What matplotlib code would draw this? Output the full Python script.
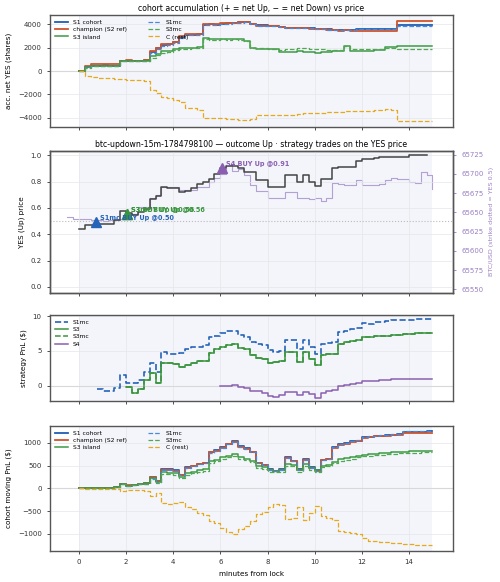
import numpy as np
import matplotlib
matplotlib.use("Agg")
import matplotlib.pyplot as plt

# time grid (minutes from lock)
t = np.arange(0, 15.001, 0.25)
t_btc = np.arange(-0.5, 15.001, 0.25)
nan = np.nan

# --- panel 1: accumulated net YES shares ---
acc_s1 = [0, 320, 420, 460, 480, 470, 450, 850, 880, 860, 880, 900, 1650, 1950, 2250, 2300,
          2450, 2900, 3100, 3100, 3150, 3950, 3980, 3950, 4050, 4080, 4100, 4150, 4200, 4050,
          3900, 3900, 3880, 3850, 3750, 3700, 3700, 3690, 3700, 3650, 3620, 3600, 3560, 3500,
          3480, 3520, 3500, 3580, 3600, 3580, 3600, 3600, 3600, 3620, 3900, 3900, 3890, 3890,
          3890, 3890, 3890]
acc_champ = [0, 420, 560, 600, 600, 580, 560, 880, 900, 880, 890, 920, 1750, 2000, 2300, 2350,
             2500, 2950, 3150, 3150, 3200, 4000, 4000, 3980, 4080, 4100, 4120, 4150, 4180, 4000,
             3880, 3880, 3860, 3830, 3730, 3680, 3680, 3650, 3660, 3620, 3600, 3560, 3520, 3470,
             3450, 3480, 3430, 3420, 3420, 3400, 3450, 3400, 3420, 3450, 4300, 4300, 4300, 4300,
             4300, 4300, 4300]
acc_s3 = [0, 300, 400, 450, 470, 460, 450, 850, 870, 860, 870, 880, 1250, 1450, 1700, 1750,
          1900, 1950, 2000, 2000, 2050, 2800, 2750, 2700, 2750, 2700, 2750, 2700, 2600, 2000,
          1900, 1900, 1880, 1850, 1650, 1660, 1650, 1700, 1650, 1600, 1550, 1600, 1650, 1700,
          1700, 2150, 1750, 1740, 1740, 1740, 1760, 1760, 2030, 2030, 2170, 2170, 2170, 2170,
          2170, 2170, 2170]
acc_s1mc = [0, 300, 400, 450, 470, 450, 430, 820, 860, 840, 860, 880, 1550, 1850, 2150, 2250,
            2400, 2850, 3050, 3050, 3100, 3900, 3950, 3920, 4020, 4060, 4080, 4120, 4180, 4020,
            3880, 3880, 3860, 3830, 3730, 3680, 3680, 3660, 3680, 3640, 3600, 3580, 3540, 3480,
            3470, 3500, 3480, 3560, 3580, 3560, 3580, 3580, 3580, 3600, 3880, 3880, 3880, 3880,
            3880, 3880, 3880]
acc_s3mc = [0, 290, 390, 440, 460, 450, 440, 830, 850, 840, 850, 860, 1150, 1350, 1550, 1650,
            1800, 1850, 1900, 1950, 2000, 2700, 2650, 2650, 2700, 2650, 2700, 2650, 2600, 2000,
            1950, 1950, 1900, 1880, 1800, 1850, 1900, 1940, 1940, 1900, 1850, 1850, 1800, 1800,
            1820, 2100, 1900, 1890, 1890, 1890, 1890, 1890, 1950, 2000, 1900, 1890, 1890, 1890,
            1890, 1890, 1890]
acc_rest = [0, -400, -500, -560, -580, -600, -650, -700, -780, -790, -800, -830, -1650, -1900,
            -2200, -2300, -2500, -2650, -3200, -3200, -3300, -4000, -4000, -4050, -4050, -4100,
            -4100, -4150, -4150, -4100, -3800, -3800, -3780, -3780, -3750, -3740, -3720, -3700,
            -3600, -3580, -3550, -3560, -3530, -3500, -3500, -3450, -3420, -3400, -3400, -3380,
            -3350, -3300, -3250, -3350, -4250, -4250, -4250, -4250, -4260, -4260, -4260]

# --- panel 2: YES price and BTC ---
yes_price = [0.44, 0.47, 0.47, 0.48, 0.48, 0.48, 0.51, 0.58, 0.56, 0.55, 0.57, 0.59, 0.67, 0.69,
             0.76, 0.75, 0.75, 0.72, 0.73, 0.75, 0.78, 0.80, 0.82, 0.86, 0.90, 0.92, 0.92, 0.90,
             0.87, 0.87, 0.81, 0.81, 0.76, 0.76, 0.76, 0.85, 0.85, 0.80, 0.85, 0.80, 0.77, 0.82,
             0.82, 0.90, 0.91, 0.91, 0.91, 0.96, 0.97, 0.97, 0.98, 0.99, 0.99, 0.99, 0.99, 0.99,
             1.00, 1.00, 1.00, 1.00]
btc = [65644, 65641, 65641, 65641, 65640, 65640, 65639, 65640, 65640, 65641, 65648, 65648,
       65657, 65657, 65668, 65672, 65683, 65683, 65683, 65679, 65679, 65679, 65683, 65683,
       65690, 65694, 65700, 65712, 65704, 65706, 65698, 65685, 65678, 65678, 65668, 65668,
       65668, 65676, 65676, 65668, 65668, 65667, 65668, 65665, 65668, 65688, 65687, 65686,
       65686, 65692, 65686, 65686, 65686, 65687, 65692, 65694, 65693, 65693, 65690, 65688,
       65702, 65698, 65680]
strike = 65638
trade_t = [0.71, 2.05, 2.05, 6.08]
trade_px = [0.49, 0.555, 0.555, 0.90]
trade_lbl = ["S1mc BUY Up @0.50", "S3 BUY Up @0.56", "S3mc BUY Up @0.56", "S4 BUY Up @0.91"]
trade_col = ["#2563b8", "#3a953f", "#3a953f", "#8a5fb0"]

# --- panel 3: strategy PnL ($) ---
pnl_s1mc = [nan, nan, nan, -0.5, -0.8, -0.7, -0.3, 1.5, 0.4, 0.4, 0.8, 2.0, 3.2, 2.0, 4.9, 4.6,
            4.5, 4.7, 5.3, 5.5, 5.6, 5.8, 7.0, 7.2, 7.5, 7.9, 7.8, 7.3, 7.0, 6.3, 6.0, 5.8, 5.1,
            4.8, 5.0, 6.5, 6.5, 5.3, 6.5, 5.6, 4.6, 6.0, 6.1, 6.3, 7.7, 7.9, 8.1, 8.3, 9.0, 8.9,
            9.1, 9.1, 9.3, 9.4, 9.4, 9.5, 9.5, 9.6, 9.6, 9.6, 9.6]
pnl_s3 = [nan, nan, nan, nan, nan, nan, nan, nan, -0.2, -1.1, -0.5, 0.8, 1.8, 0.4, 3.3, 3.3,
          3.1, 2.7, 2.9, 3.2, 3.5, 3.6, 4.7, 5.2, 5.5, 5.9, 6.0, 5.4, 5.3, 4.4, 4.0, 3.9, 3.3,
          3.4, 3.5, 4.8, 4.8, 3.4, 4.8, 3.9, 3.0, 4.4, 4.5, 4.6, 6.0, 6.2, 6.4, 6.5, 7.0, 7.0,
          7.1, 7.1, 7.2, 7.3, 7.3, 7.4, 7.4, 7.5, 7.5, 7.5, 7.5]
pnl_s3mc = [nan, nan, nan, nan, nan, nan, nan, nan, -0.2, -1.1, -0.5, 0.8, 1.8, 0.4, 3.3, 3.3,
            3.1, 2.7, 2.9, 3.2, 3.5, 3.6, 4.7, 5.2, 5.5, 5.9, 6.0, 5.4, 5.3, 4.4, 4.0, 3.9, 3.3,
            3.4, 3.5, 4.8, 4.8, 3.4, 4.8, 3.9, 3.0, 4.4, 4.5, 4.6, 6.0, 6.2, 6.4, 6.5, 7.0, 7.0,
            7.1, 7.1, 7.2, 7.3, 7.3, 7.4, 7.4, 7.5, 7.5, 7.5, 7.5]
pnl_s4 = [nan] * 24 + [0.0, -0.1, 0.1, -0.2, -0.3, -0.7, -0.8, -1.0, -1.5, -1.6, -1.4, -0.9,
                       -0.9, -1.4, -0.9, -1.2, -1.7, -1.1, -0.8, -0.6, 0.0, 0.1, 0.3, 0.4, 0.6,
                       0.7, 0.7, 0.8, 0.8, 0.9, 0.9, 0.9, 1.0, 1.0, 1.0, 1.0, 1.0]

# --- panel 4: cohort moving PnL ($) ---
mv_s1 = [10, 10, 15, 15, 15, 15, 20, 90, 60, 70, 90, 110, 240, 160, 420, 420, 400, 300, 460,
         500, 540, 560, 800, 840, 900, 980, 1030, 920, 880, 800, 560, 520, 420, 390, 420, 680,
         600, 420, 640, 460, 400, 630, 650, 900, 970, 990, 1030, 1050, 1120, 1130, 1150, 1160,
         1170, 1180, 1190, 1230, 1230, 1240, 1240, 1250, 1250]
mv_champ = [10, 10, 15, 15, 15, 15, 20, 95, 65, 75, 95, 115, 250, 170, 410, 410, 390, 290, 450,
            490, 530, 550, 790, 830, 890, 970, 1010, 910, 870, 790, 550, 510, 410, 380, 410, 670,
            590, 410, 630, 450, 390, 620, 640, 890, 960, 980, 1020, 1040, 1110, 1120, 1140, 1150,
            1160, 1170, 1180, 1210, 1210, 1215, 1215, 1220, 1220]
mv_s3 = [10, 10, 15, 15, 15, 15, 20, 90, 60, 70, 90, 110, 220, 130, 350, 340, 330, 260, 330,
         360, 400, 420, 600, 630, 680, 720, 750, 680, 650, 600, 480, 460, 400, 390, 400, 540,
         520, 400, 540, 440, 400, 500, 520, 580, 640, 660, 680, 710, 740, 750, 760, 770, 780,
         790, 800, 805, 810, 815, 820, 825, 830]
mv_s1mc = [10, 10, 15, 15, 15, 15, 20, 85, 55, 65, 85, 105, 230, 150, 400, 410, 390, 290, 450,
           490, 530, 550, 780, 830, 890, 970, 1020, 910, 870, 790, 550, 510, 410, 380, 410, 670,
           590, 410, 630, 450, 390, 620, 650, 910, 980, 1000, 1040, 1060, 1130, 1140, 1160, 1170,
           1180, 1190, 1200, 1250, 1260, 1260, 1260, 1260, 1260]
mv_s3mc = [10, 10, 15, 15, 15, 15, 20, 85, 55, 65, 85, 100, 200, 110, 320, 310, 300, 230, 300,
           330, 370, 390, 560, 600, 650, 690, 720, 650, 620, 570, 450, 430, 370, 360, 370, 500,
           480, 370, 500, 410, 370, 470, 490, 550, 610, 630, 650, 680, 710, 720, 730, 740, 750,
           760, 770, 775, 780, 785, 790, 790, 790]
mv_rest = [0, -5, -5, -8, -8, -10, -10, -50, -45, -35, -40, -50, -170, -100, -330, -350, -330,
           -290, -420, -450, -540, -580, -720, -770, -860, -950, -1000, -900, -820, -720, -560,
           -530, -400, -340, -360, -680, -640, -420, -700, -540, -380, -600, -650, -700, -930,
           -950, -970, -1000, -1100, -1150, -1160, -1170, -1180, -1190, -1200, -1220, -1230,
           -1235, -1240, -1245, -1250]

C_S1 = "#1f5fb4"
C_CH = "#d0542a"
C_S3 = "#3d9a45"
C_S1MC = "#4a88d9"
C_S3MC = "#52a852"
C_REST = "#e5a91c"
C_S4 = "#8a5fb0"
C_BTC = "#b4a0d4"
SPAN = "#f3f5fa"

plt.rcParams.update({
    "font.size": 5,
    "axes.edgecolor": "#555555",
    "axes.linewidth": 1.0,
    "xtick.color": "#333333",
    "ytick.color": "#333333",
    "xtick.labelsize": 5,
    "ytick.labelsize": 5,
    "xtick.major.size": 2.5,
    "ytick.major.size": 2.5,
    "xtick.major.width": 0.6,
    "ytick.major.width": 0.6,
})

fig = plt.figure(figsize=(5, 5.82), dpi=100)
L, W = 0.10, 0.806
ax1 = fig.add_axes([L, 0.7818, W, 0.1924])
ax2 = fig.add_axes([L, 0.497, W, 0.244], sharex=ax1)
ax3 = fig.add_axes([L, 0.311, W, 0.1478], sharex=ax1)
ax4 = fig.add_axes([L, 0.0533, W, 0.2148], sharex=ax1)

for ax in (ax1, ax2, ax3, ax4):
    if ax is not ax2:
        ax.axvspan(0, 15, color=SPAN, zorder=0, lw=0)
    ax.grid(True, color="#e4e6ea", lw=0.5, zorder=0.5)
    ax.set_axisbelow(True)
    ax.set_xlim(-1.23, 15.87)
    ax.set_xticks(range(0, 15, 2))
for ax in (ax1, ax3, ax4):
    ax.axhline(0, color="#d8d8d8", lw=0.8, zorder=1)
for ax in (ax1, ax2, ax3):
    ax.tick_params(labelbottom=False)

# panel 1
ax1.plot(t, acc_s1, drawstyle="steps-post", color=C_S1, lw=1.3, label="S1 cohort")
ax1.plot(t, acc_champ, drawstyle="steps-post", color=C_CH, lw=1.3, label="champion (S2 ref)")
ax1.plot(t, acc_s3, drawstyle="steps-post", color=C_S3, lw=1.1, label="S3 island")
ax1.plot(t, acc_s1mc, drawstyle="steps-post", color=C_S1MC, lw=0.9, ls="--", label="S1mc")
ax1.plot(t, acc_s3mc, drawstyle="steps-post", color=C_S3MC, lw=0.9, ls="--", label="S3mc")
ax1.plot(t, acc_rest, drawstyle="steps-post", color=C_REST, lw=0.9, ls="--", label="C (rest)")
ax1.set_ylim(-4786, 4786)
ax1.set_yticks([-4000, -2000, 0, 2000, 4000])
ax1.set_ylabel("acc. net YES (shares)", fontsize=5.2)
ax1.set_title("cohort accumulation (+ = net Up, \u2212 = net Down) vs price", fontsize=5.6, pad=3)
ax1.legend(loc="upper left", ncol=2, fontsize=4.3, frameon=False, handlelength=2.2,
           columnspacing=3.5, labelspacing=0.35, borderaxespad=0.4)

# panel 2: BTC on a twin axis drawn underneath the price axis
ax2r = ax2.twinx()
ax2.set_zorder(ax2r.get_zorder() + 1)
ax2.patch.set_visible(False)
ax2r.set_facecolor("white")
ax2r.axvspan(0, 15, color=SPAN, zorder=0, lw=0)
ax2r.plot(t_btc, btc, drawstyle="steps-post", color=C_BTC, lw=0.8, zorder=2)
ax2r.set_ylim(strike - 92.5, strike + 92)
ax2r.set_yticks([65550, 65575, 65600, 65625, 65650, 65675, 65700, 65725])
ax2r.tick_params(axis="y", colors="#9a80c4", labelsize=5)
ax2r.set_ylabel("BTC/USD (strike dotted = YES 0.5)", color="#9a80c4", fontsize=4.6)

ax2.plot(t[:len(yes_price)], yes_price, drawstyle="steps-post", color="#444444", lw=1.1, zorder=3)
ax2.axhline(0.5, color="#bbbbbb", lw=0.8, ls=":", zorder=2)
ax2.set_ylim(-0.045, 1.035)
ax2.set_yticks([0.0, 0.2, 0.4, 0.6, 0.8, 1.0])
ax2.set_ylabel("YES (Up) price", fontsize=5.2)
ax2.set_title("btc-updown-15m-1784798100 \u2014 outcome Up \u00b7 strategy trades on the YES price",
              fontsize=5.6, pad=3)
for tt, pp, lb, cc in zip(trade_t, trade_px, trade_lbl, trade_col):
    ax2.plot(tt, pp, marker="^", ms=6.5, color=cc, zorder=5)
    ax2.annotate(lb, (tt, pp), xytext=(3, 1.5), textcoords="offset points", color=cc,
                 fontsize=4.7, fontweight="bold", zorder=6)

# panel 3
ax3.plot(t, pnl_s1mc, drawstyle="steps-post", color="#2563b8", lw=1.2, ls="--", label="S1mc")
ax3.plot(t, pnl_s3, drawstyle="steps-post", color="#3a953f", lw=1.1, label="S3")
ax3.plot(t, pnl_s3mc, drawstyle="steps-post", color="#3a953f", lw=1.1, ls="--", label="S3mc")
ax3.plot(t, pnl_s4, drawstyle="steps-post", color=C_S4, lw=1.1, label="S4")
ax3.set_ylim(-2.2, 10.15)
ax3.set_yticks([0, 5, 10])
ax3.set_ylabel("strategy PnL ($)", fontsize=5.2)
ax3.legend(loc="upper left", fontsize=4.3, frameon=False, handlelength=2.2,
           labelspacing=0.35, borderaxespad=0.4)

# panel 4
ax4.plot(t, mv_s1, drawstyle="steps-post", color=C_S1, lw=1.3, label="S1 cohort")
ax4.plot(t, mv_champ, drawstyle="steps-post", color=C_CH, lw=1.3, label="champion (S2 ref)")
ax4.plot(t, mv_s3, drawstyle="steps-post", color=C_S3, lw=1.1, label="S3 island")
ax4.plot(t, mv_s1mc, drawstyle="steps-post", color=C_S1MC, lw=0.9, ls="--", label="S1mc")
ax4.plot(t, mv_s3mc, drawstyle="steps-post", color=C_S3MC, lw=0.9, ls="--", label="S3mc")
ax4.plot(t, mv_rest, drawstyle="steps-post", color=C_REST, lw=0.9, ls="--", label="C (rest)")
ax4.set_ylim(-1375, 1370)
ax4.set_yticks([-1000, -500, 0, 500, 1000])
ax4.set_ylabel("cohort moving PnL ($)", fontsize=5.2)
ax4.set_xlabel("minutes from lock", fontsize=5.2)
ax4.legend(loc="upper left", ncol=2, fontsize=4.3, frameon=False, handlelength=2.2,
           columnspacing=3.5, labelspacing=0.35, borderaxespad=0.4)

fig.savefig("out.png", dpi=100)
